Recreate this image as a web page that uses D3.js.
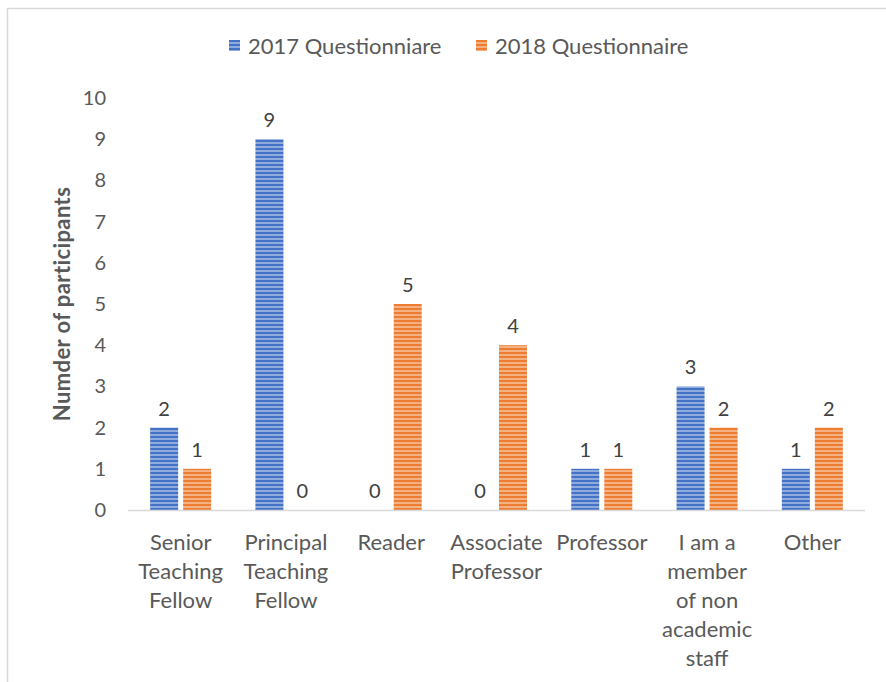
<!DOCTYPE html>
<html><head><meta charset="utf-8">
<script src="https://cdn.jsdelivr.net/npm/d3@7"></script>
<style>body{margin:0;background:#fff}svg{display:block}</style>
</head><body>
<script>
const categories = [
  ["Senior","Teaching","Fellow"],
  ["Principal","Teaching","Fellow"],
  ["Reader"],
  ["Associate","Professor"],
  ["Professor"],
  ["I am a","member","of non","academic","staff"],
  ["Other"]
];
const seriesNames = ["2017 Questionniare", "2018 Questionnaire"];
const values2017 = [2, 9, 0, 0, 1, 3, 1];
const values2018 = [1, 0, 5, 4, 1, 2, 2];
const yTicks = [0,1,2,3,4,5,6,7,8,9,10];

const W = 886, H = 682;
const font = "Lato, 'Open Sans', sans-serif";
const svg = d3.select("body").append("svg").attr("width", W).attr("height", H);

// patterns
const defs = svg.append("defs");
function stripe(id, dark, light) {
  const p = defs.append("pattern").attr("id", id).attr("patternUnits","userSpaceOnUse")
    .attr("width", 8).attr("height", 4);
  p.append("rect").attr("width",8).attr("height",4).attr("fill", light);
  p.append("rect").attr("width",8).attr("height",2).attr("fill", dark);
}
stripe("p2017", "#4472C4", "#8faadc");
stripe("p2018", "#ED7D31", "#f4b183");
const fills = ["url(#p2017)", "url(#p2018)"];

// frame
svg.append("path").attr("d", "M7.5,682 V8.5 H886").attr("fill","none")
  .attr("stroke","#d9d9d9").attr("stroke-width",1.5);

const x0 = d3.scaleBand().domain(d3.range(categories.length)).range([128, 865]);
const y = d3.scaleLinear().domain([0, 10]).range([510, 98]);
const barW = 28, gap = 5;

// y tick labels
svg.append("g").selectAll("text").data(yTicks).join("text")
  .attr("x", 106).attr("y", d => y(d)).attr("dy", "0.35em")
  .attr("text-anchor", "end").attr("font-family", font).attr("font-size", 20)
  .attr("fill", "#595959").text(d => d);

// axis title
svg.append("text").attr("transform", "translate(70,304) rotate(-90)")
  .attr("text-anchor", "middle").attr("font-family", font).attr("font-size", 22)
  .attr("letter-spacing", 0.4)
  .attr("font-weight", "bold").attr("fill", "#595959").text("Numder of participants");

const series = [values2017, values2018];
series.forEach((vals, si) => {
  const g = svg.append("g");
  const xpos = i => x0(i) + x0.bandwidth()/2 + (si === 0 ? -gap/2 - barW : gap/2);
  g.selectAll("rect").data(vals).join("rect")
    .attr("x", (d,i) => xpos(i)).attr("width", barW)
    .attr("y", d => y(d)).attr("height", d => y(0) - y(d))
    .attr("fill", fills[si]);
  g.selectAll("text").data(vals).join("text")
    .attr("x", (d,i) => xpos(i) + barW/2).attr("y", d => y(d) - 12)
    .attr("text-anchor", "middle").attr("font-family", font).attr("font-size", 20)
    .attr("fill", "#404040").text(d => d);
});

// baseline
svg.append("line").attr("x1", 128).attr("x2", 865).attr("y1", y(0)+0.5).attr("y2", y(0)+0.5)
  .attr("stroke", "#d9d9d9").attr("stroke-width", 1.5);

// category labels
const cg = svg.append("g");
categories.forEach((lines, i) => {
  const t = cg.append("text").attr("text-anchor", "middle").attr("font-family", font)
    .attr("font-size", 22).attr("fill", "#595959");
  lines.forEach((ln, j) => {
    t.append("tspan").attr("x", x0(i) + x0.bandwidth()/2).attr("y", 550 + j*29).text(ln);
  });
});

// legend
const legX = [229, 476];
seriesNames.forEach((nm, i) => {
  svg.append("rect").attr("x", legX[i]).attr("y", 40).attr("width", 11).attr("height", 11)
    .attr("fill", fills[i]);
  svg.append("text").attr("x", legX[i] + 19).attr("y", 46).attr("dy", "0.35em")
    .attr("font-family", font).attr("font-size", 22).attr("fill", "#595959").text(nm);
});
</script>
</body></html>
